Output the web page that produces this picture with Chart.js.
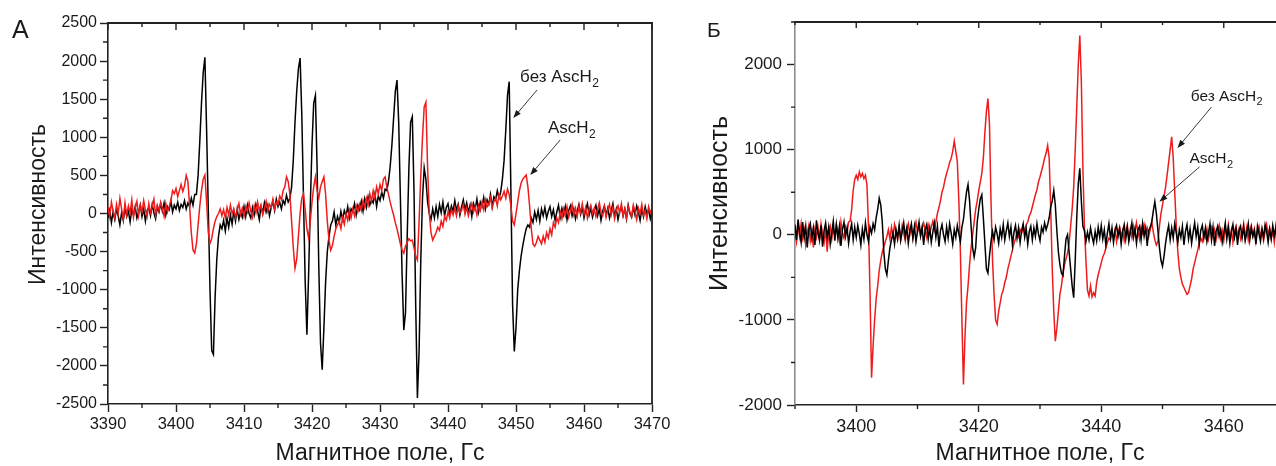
<!DOCTYPE html>
<html>
<head>
<meta charset="utf-8">
<script src="https://cdn.jsdelivr.net/npm/chart.js@4/dist/chart.umd.min.js"></script>
<style>
  html, body { margin: 0; padding: 0; background: #fff; overflow: hidden; width: 1276px; height: 466px; }
  canvas { position: absolute; top: 0; }
  #chartA { left: 0; }
  #chartB { left: 670px; }
</style>
</head>
<body>
<canvas id="chartA" width="700" height="466"></canvas>
<canvas id="chartB" width="615" height="466"></canvas>
<script>
// EPR spectra, field sweep 3390–3470 G, one sample every 0.25 G
const FIELD_START = 3390;
const FIELD_STEP = 0.25;

// Panel A: black trace, without ascorbate (одна строка = 1 Гс)
const blackA = [
  -60, 40, -120, 20,     -80, 60, -30, -150,    10, -90, 80, -40,      30, -110, 50, -20,
  90, -60, 20, 110,      -40, 60, -100, 40,     80, -30, 120, 10,      -70, 90, 20, 130,
  30, 140, -20, 90,      50, 160, 20, 110,      60, 150, 40, 120,      80, 170, 60, 140,
  90, 200, 110, 250,     250, 500, 950, 1450,   1850, 2050, 1100, 50,  -1000, -1800, -1850, -1100,
  -600, -300, -150, -200, -90, -230, -60, -180, -20, -140, 30, -100,   60, -80, 20, -50,
  90, -40, 110, 0,       -60, 80, -20, 120,     30, -80, 90, 10,       140, 20, 110, -30,
  80, 160, 40, 190,      90, 150, 60, 170,      120, 240, 150, 200,    350, 700, 1200, 1600,
  1900, 2040, 1300, 200, -900, -1590, -800, 100, 900, 1450, 1550, 600, -700, -1700, -2050, -1500,
  -900, -500, -300, -150, -100, 20, -150, -40,  -120, 30, -80, 40,     -30, 90, -60, 60,
  20, 130, -20, 110,     50, 160, 30, 190,      80, 220, 110, 180,     140, 260, 90, 230,
  170, 280, 200, 320,    300, 420, 620, 900,    1250, 1600, 1750, 1200, 200, -800, -1530, -1300,
  -300, 600, 1200, 1270, 300, -1200, -2420, -1800, -600, 200, 600, 450, 150, 0, -80, 60,
  -60, 90, -40, 120,     10, 150, -30, 80,      130, -10, 100, 30,     170, 40, 120, -20,
  90, 180, 50, 140,      10, 110, -40, 130,     60, 190, 20, 150,      90, 210, 60, 180,
  120, 250, 90, 220,     180, 300, 200, 280,    450, 700, 1100, 1550,  1730, 300, -1200, -1810,
  -1500, -1000, -750, -560, -420, -300, -200, -150, -180, -60, -120, 20, -80, 40, -100, 60,
  -30, 80, -60, 30,      90, -40, 50, -90,      20, 110, -50, 70,      -20, 90, -80, 40,
  100, -30, 60, -70,     30, 120, -10, 80,      -60, 50, 130, -20,     70, -50, 40, 110,
  -30, 60, -90, 30,      100, -20, 70, -60,     40, 130, -40, 60,      -80, 30, 90, -30,
  60, -70, 110, 0,       -50, 80, -20, 100,     20, -90, 60, -40,      90, -10, 50, -70,
  30
];

// Panel A: red trace, with ascorbate
const redA = [
  80, -40, 150, 30,      -60, 120, 0, 200,      60, -80, 140, -20,     100, 10, 180, -50,
  70, 160, -30, 110,     20, 170, 50, -40,      130, 10, 90, 190,      -20, 110, 40, 150,
  60, -40, 130, 20,      90, 170, 300, 260,     330, 220, 300, 380,    290, 360, 500, 420,
  100, -250, -480, -520, -400, -150, 100, 300,  450, 505, 150, -250,   -390, -330, -200, -100,
  -40, 0, 60, -30,       50, -60, 80, -20,      110, 0, 60, -50,       40, 130, -10, 70,
  -40, 90, 20, 140,      30, -50, 100, 10,      150, 40, 110, -20,     60, 160, 30, 120,
  80, 190, 60, 150,      120, 230, 180, 300,    350, 480, 420, 250,    -100, -450, -720, -600,
  -300, 0, 200, 260,     50, -200, -320, -100,  150, 350, 480, 300,    200, 350, 420, 480,
  250, -100, -350, -480, -420, -300, -200, -150, -100, -200, -50, -140, 0, -90, 40, -60,
  60, -30, 100, 20,      120, 40, 170, 80,      200, 110, 260, 160,    300, 200, 350, 260,
  380, 300, 450, 480,    350, 250, 150, 60,     -20, -120, -200, -300, -400, -480, -520, -430,
  -380, -330, -360, -350, -450, -560, -610, -100, 500, 1000, 1400, 1460, 600, 0, -250, -350,
  -300, -250, -180, -220, -100, -170, -40, -90, 20, -60, 50, -20,      70, -30, 100, 10,
  40, 120, -10, 80,      -30, 60, 130, 20,      90, -20, 110, 40,      150, 50, 180, 90,
  130, 210, 70, 160,     200, 100, 250, 180,    230, 290, 200, 320,    250, 100, -100, -150,
  0, 150, 300, 400,      450, 480, 505, 350,    100, -200, -400, -430, -380, -300, -350, -400,
  -300, -380, -250, -320, -200, -280, -120, -180, -60, -120, 20, -70,  60, -30, 90, -50,
  30, 120, -20, 70,      -40, 90, 10, 130,      -10, 80, -60, 50,      110, 0, 70, -40,
  60, 140, 20, -30,      90, -50, 50, 120,      -20, 80, -70, 40,      100, 10, 130, -30,
  60, -60, 90, 20,       -40, 110, 30, -80,     70, 0, 120, -20,       40, -70, 90, 10,
  60
];

// Panel Б: red trace, without ascorbate
const redB = [
  50, -80, 100, -20,     130, -40, 60, -120,    20, 110, -70, 40,      -150, 60, -30, 90,
  -60, 130, 10, -90,     70, -200, 30, 100,     -50, 80, -10, 120,     40, -70, 150, 20,
  -40, 90, 20, 150,      160, 300, 520, 650,    700, 650, 740, 680,    720, 660, 700, 580,
  100, -700, -1680, -1300, -1000, -750, -600, -420, -300, -200, -140, -80, -20, 60, -50, 90,
  -10, 120, 30, -60,     80, -30, 110, 20,      -70, 60, 130, 0,       90, -40, 70, 150,
  30, 100, -20, 80,      140, 50, -30, 110,     20, 90, 160, 60,       150, 250, 320, 400,
  500, 560, 650, 720,    780, 850, 900, 980,    1100, 980, 860, 400,   -200, -1000, -1760, -1200,
  -800, -600, -350, -150, 0, 150, 300, 400,     520, 620, 720, 900,    1200, 1450, 1600, 1300,
  400, -300, -700, -1000, -1050, -900, -800, -700, -650, -560, -500, -400, -330, -250, -180, -100,
  -50, 30, -20, 60,      20, 80, 50, 120,       150, 220, 260, 330,    400, 470, 530, 620,
  680, 750, 820, 900,    960, 1050, 900, 300,   -400, -900, -1250, -1100, -900, -700, -600, -450,
  -350, -280, -215, -100, 100, 300, 560, 1000,  1500, 2000, 2340, 1800, 800, 100, -300, -650,
  -720, -600, -730, -680, -720, -560, -470, -400, -330, -260, -220, -160, -90, -40, -60, 20,
  -30, 60, -80, 40,      90, -20, 50, -70,      30, 110, -40, 70,      -30, 100, 10, 140,
  40, -50, 90, 20,       120, 30, 80, -20,      60, 150, 30, -60,      -120, -80, 100, 250,
  350, 450, 560, 700,    850, 1000, 1150, 900,  500, 100, -200, -400,  -500, -580, -620, -660,
  -700, -680, -600, -520, -400, -330, -250, -180, -100, -40, -80, 20,  -30, 70, -50, 40,
  90, -20, 60, -60,      30, 110, -40, 50,      -70, 80, 0, 120,       -30, 60, -90, 40,
  100, -20, 70, -50,     20, 130, -40, 80,      -60, 50, 110, -10,     70, -80, 40, 100,
  -20, 60, -70, 30,      120, 0, 80, -40,       50, -90, 110, 20,      -50, 70, -20, 90,
  10
];

// Panel Б: black trace, with ascorbate
const blackB = [
  120, -60, 180, 30,     -90, 150, -30, 100,    -150, 60, 130, -40,    80, -120, 170, 20,
  -60, 110, -140, 50,    140, -30, 90, -110,    30, 160, -70, 120,     -40, 100, -130, 60,
  150, -20, 80, -100,    40, 130, -60, 90,      -30, 110, 10, -120,    70, -50, 140, 0,
  -80, 90, 20, 130,      60, 200, 300, 430,     350, 150, -200, -400,  -470, -300, -150, -60,
  20, -110, 60, -40,     110, -70, 30, 140,     -20, 80, -100, 50,     130, -40, 100, -80,
  40, 150, -10, 90,      -120, 60, 120, -50,    80, -90, 30, 140,      -30, 100, -140, 50,
  120, 0, -80, 90,       -40, 130, 20, -110,    60, -30, 110, 10,      -80, 90, 180, 350,
  500, 590, 400, 100,    -150, -260, -150, 150, 300, 420, 470, 200,    -100, -400, -450, -250,
  -80, 40, -60, 90,      10, -100, 70, -30,     120, -60, 50, 140,     -20, 90, -120, 30,
  110, -40, 80, -90,     50, 130, -30, 70,      -110, 40, 100, -60,    80, -20, 130, 10,
  -70, 90, 30, 140,      60, 120, 200, 330,     400, 520, 350, 50,     -200, -350, -450, -480,
  -250, -50, 0, -200,    -400, -600, -740, -300, 200, 600, 780, 400,   100, 50, -80, 30,
  -60, 80, -20, -100,    40, -70, 90, -30,      110, -50, 60, -120,    20, 130, -40, 80,
  -90, 50, 110, -20,     70, -110, 40, 120,     -50, 90, -80, 30,      140, -30, 70, -100,
  60, 100, -60, 130,     -20, 80, -130, 50,     90, 150, 280, 390,     250, 50, -150, -300,
  -370, -250, -100, 20,  110, -60, 80, -40,     130, 20, -90, 60,      -30, 100, -120, 40,
  120, -50, 70, -100,    30, 140, -20, 90,      -110, 50, 110, -40,    80, -80, 20, 130,
  -60, 90, -130, 40,     100, -20, 60, -90,     20, 140, -50, 80,      -100, 30, 120, -30,
  70, -120, 50, 100,     -40, 90, -70, 20,      130, -60, 80, -20,     50, -110, 100, 10,
  -80, 70, -30, 120,     40, -90, 60, -50,      110, -10, 80, -130,    30, 100, -60, 50,
  -40
];

// Tick values
const xMajorA = [3390, 3400, 3410, 3420, 3430, 3440, 3450, 3460, 3470];
const xMinorA = [3395, 3405, 3415, 3425, 3435, 3445, 3455, 3465];
const yMajorA = [-2500, -2000, -1500, -1000, -500, 0, 500, 1000, 1500, 2000, 2500];
const yMinorA = [-2250, -1750, -1250, -750, -250, 250, 750, 1250, 1750, 2250];
const xMajorB = [3400, 3420, 3440, 3460];
const xMinorB = [3390, 3410, 3430, 3450, 3470];
const yMajorB = [-2000, -1000, 0, 1000, 2000];
const yMinorB = [-1500, -500, 500, 1500, 2500];

const SERIES_LEN = (3470 - FIELD_START) / FIELD_STEP + 1;
[['blackA', blackA], ['redA', redA], ['redB', redB], ['blackB', blackB]].forEach(([n, arr]) => {
  if (arr.length !== SERIES_LEN) throw new Error(n + ' has ' + arr.length + ' points, expected ' + SERIES_LEN);
});

const FONT = "'Liberation Sans', Arial, Helvetica, sans-serif";
const RED = '#ee1c1c';
const INK = '#1a1a1a';

function toPoints(values) {
  return values.map((v, i) => ({ x: FIELD_START + i * FIELD_STEP, y: v }));
}

// Frame: top/right edges, inward top ticks, minor ticks on bottom and left
const framePlugin = {
  id: 'frame',
  afterDatasetsDraw(chart, args, o) {
    const { ctx, chartArea: a, scales: { x, y } } = chart;
    ctx.save();
    ctx.strokeStyle = o.color;
    ctx.lineWidth = o.edgeWidth;
    ctx.beginPath();
    ctx.moveTo(a.left - 1, a.top);
    ctx.lineTo(a.right + 1, a.top);
    if (o.rightEdge) {
      ctx.moveTo(a.right, a.top);
      ctx.lineTo(a.right, a.bottom);
    }
    ctx.stroke();
    ctx.lineWidth = o.tickWidth;
    ctx.beginPath();
    o.xMajor.forEach(v => {
      const px = x.getPixelForValue(v);
      ctx.moveTo(px, a.top); ctx.lineTo(px, a.top + o.topMajor);
    });
    o.xMinor.forEach(v => {
      const px = x.getPixelForValue(v);
      ctx.moveTo(px, a.top); ctx.lineTo(px, a.top + o.topMinor);
      ctx.moveTo(px, a.bottom); ctx.lineTo(px, a.bottom + o.bottomMinor);
    });
    o.yMinor.forEach(v => {
      const py = y.getPixelForValue(v);
      ctx.moveTo(a.left, py); ctx.lineTo(a.left - o.leftMinor, py);
    });
    ctx.stroke();
    ctx.restore();
  }
};

// Axis titles and panel letter
const titlesPlugin = {
  id: 'titles',
  afterDraw(chart, args, o) {
    const { ctx, chartArea: a } = chart;
    ctx.save();
    ctx.fillStyle = INK;
    ctx.textBaseline = 'alphabetic';
    ctx.textAlign = 'left';
    ctx.font = o.letterSize + 'px ' + FONT;
    ctx.fillText(o.letter, o.letterX, o.letterBaseline);
    ctx.textAlign = 'center';
    ctx.font = o.xSize + 'px ' + FONT;
    ctx.fillText(o.xText, (a.left + a.right) / 2 + o.xShift, o.xBaseline);
    ctx.translate(o.yBaseline, (a.top + a.bottom) / 2 + o.yShift);
    ctx.rotate(-Math.PI / 2);
    ctx.font = o.ySize + 'px ' + FONT;
    ctx.fillText(o.yText, 0, 0);
    ctx.restore();
  }
};

// Labels with arrows, anchored in field/intensity units
const notesPlugin = {
  id: 'notes',
  afterDatasetsDraw(chart, args, o) {
    const { ctx, scales: { x, y } } = chart;
    ctx.save();
    ctx.fillStyle = INK;
    ctx.strokeStyle = '#222';
    ctx.textAlign = 'left';
    ctx.textBaseline = 'alphabetic';
    o.items.forEach(n => {
      const tx = x.getPixelForValue(n.at[0]);
      const ty = y.getPixelForValue(n.at[1]);
      ctx.font = o.size + 'px ' + FONT;
      ctx.fillText(n.text, tx, ty);
      const w = ctx.measureText(n.text).width;
      ctx.font = Math.round(o.size * 0.68) + 'px ' + FONT;
      ctx.fillText(n.sub, tx + w + 0.5, ty + o.size * 0.3);

      const x1 = x.getPixelForValue(n.from[0]), y1 = y.getPixelForValue(n.from[1]);
      const x2 = x.getPixelForValue(n.to[0]), y2 = y.getPixelForValue(n.to[1]);
      const ang = Math.atan2(y2 - y1, x2 - x1);
      const hl = 8, hw = 3;
      ctx.lineWidth = 0.9;
      ctx.beginPath();
      ctx.moveTo(x1, y1);
      ctx.lineTo(x2 - Math.cos(ang) * hl * 0.8, y2 - Math.sin(ang) * hl * 0.8);
      ctx.stroke();
      ctx.beginPath();
      ctx.moveTo(x2, y2);
      ctx.lineTo(x2 - Math.cos(ang) * hl - Math.sin(ang) * hw, y2 - Math.sin(ang) * hl + Math.cos(ang) * hw);
      ctx.lineTo(x2 - Math.cos(ang) * hl + Math.sin(ang) * hw, y2 - Math.sin(ang) * hl - Math.cos(ang) * hw);
      ctx.closePath();
      ctx.fill();
    });
    ctx.restore();
  }
};

function trace(values, color) {
  return {
    data: toPoints(values),
    borderColor: color,
    borderWidth: 1.5,
    pointRadius: 0,
    tension: 0,
    fill: false
  };
}

function makeScales(cfg) {
  return {
    x: {
      type: 'linear', min: 3390, max: 3470,
      afterBuildTicks: s => { s.ticks = cfg.xMajor.map(v => ({ value: v })); },
      afterFit: s => { s.height = cfg.xHeight; },
      ticks: { font: { size: cfg.xTickSize, family: FONT }, color: INK, padding: cfg.xPad,
               maxRotation: 0, autoSkip: false, callback: v => String(v) },
      grid: { drawOnChartArea: false, drawTicks: true, tickLength: cfg.xTick, tickColor: '#222', tickWidth: 1.4 },
      border: { display: true, color: '#222', width: 1.6 }
    },
    y: {
      type: 'linear', min: cfg.yMin, max: cfg.yMax,
      afterBuildTicks: s => { s.ticks = cfg.yMajor.map(v => ({ value: v })); },
      afterFit: s => { s.width = cfg.yWidth; },
      ticks: { font: { size: cfg.yTickSize, family: FONT }, color: INK, padding: cfg.yPad,
               autoSkip: false, callback: v => String(v) },
      grid: { drawOnChartArea: false, drawTicks: true, tickLength: 8, tickColor: '#222', tickWidth: 1.4 },
      border: { display: true, color: cfg.yBorder, width: 1.6 }
    }
  };
}

Chart.defaults.font.family = FONT;

// Panel А
new Chart(document.getElementById('chartA'), {
  type: 'line',
  data: { datasets: [trace(redA, RED), trace(blackA, '#000')] },
  options: {
    responsive: false, animation: false, events: [],
    layout: { padding: { left: 0, right: 48, top: 23, bottom: 0 } },
    scales: makeScales({
      xMajor: xMajorA, yMajor: yMajorA, yMin: -2500, yMax: 2500,
      xHeight: 62, yWidth: 108, xTickSize: 16.5, yTickSize: 16, xPad: 3, yPad: 3, xTick: 8,
      yBorder: '#222'
    }),
    plugins: {
      legend: { display: false }, tooltip: { enabled: false },
      frame: { color: '#222', edgeWidth: 1.8, tickWidth: 1.4, rightEdge: true,
               xMajor: xMajorA, xMinor: xMinorA, yMinor: yMinorA,
               topMajor: 7, topMinor: 4, bottomMinor: 4, leftMinor: 5 },
      titles: { letter: 'А', letterSize: 25, letterX: 12, letterBaseline: 38,
                xText: 'Магнитное поле, Гс', xSize: 23, xShift: 0, xBaseline: 460,
                yText: 'Интенсивность', ySize: 23, yBaseline: 45, yShift: -9 },
      notes: { size: 17, items: [
        { text: 'без AscH', sub: '2', at: [3450.6, 1726], from: [3453.1, 1621], to: [3449.6, 1253] },
        { text: 'AscH', sub: '2', at: [3454.7, 1056], from: [3456.5, 965], to: [3452.1, 505] }
      ] }
    }
  },
  plugins: [framePlugin, titlesPlugin, notesPlugin]
});

// Panel Б
new Chart(document.getElementById('chartB'), {
  type: 'line',
  data: { datasets: [trace(blackB, '#000'), trace(redB, RED)] },
  options: {
    responsive: false, animation: false, events: [],
    layout: { padding: { left: 0, right: 0, top: 22, bottom: 0 } },
    scales: makeScales({
      xMajor: xMajorB, yMajor: yMajorB, yMin: -2000, yMax: 2500,
      xHeight: 61, yWidth: 125, xTickSize: 18, yTickSize: 17, xPad: 4, yPad: 5, xTick: 7,
      yBorder: '#8c8c8c'
    }),
    plugins: {
      legend: { display: false }, tooltip: { enabled: false },
      frame: { color: '#222', edgeWidth: 2, tickWidth: 1.4, rightEdge: false,
               xMajor: xMajorB, xMinor: xMinorB, yMinor: yMinorB,
               topMajor: 6, topMinor: 3, bottomMinor: 4, leftMinor: 4 },
      titles: { letter: 'Б', letterSize: 21, letterX: 37, letterBaseline: 37,
                xText: 'Магнитное поле, Гс', xSize: 23, xShift: 0, xBaseline: 460,
                yText: 'Интенсивность', ySize: 25, yBaseline: 57, yShift: -10 },
      notes: { size: 15.5, items: [
        { text: 'без AscH', sub: '2', at: [3454.6, 1576], from: [3458.0, 1502], to: [3452.45, 1021] },
        { text: 'AscH', sub: '2', at: [3454.4, 845], from: [3456.05, 798], to: [3449.5, 387] }
      ] }
    }
  },
  plugins: [framePlugin, titlesPlugin, notesPlugin]
});
</script>
</body>
</html>
